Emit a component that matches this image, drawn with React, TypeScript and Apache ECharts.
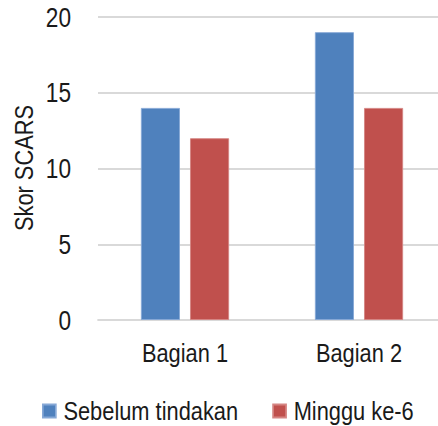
import React, { useEffect, useRef } from "react";
import * as echarts from "echarts";

const categories = ["Bagian 1", "Bagian 2"];
const seriesNames = ["Sebelum tindakan", "Minggu ke-6"];
const sebelumValues = [14, 19];
const mingguValues = [12, 14];
const yTicks = { min: 0, max: 20, interval: 5 };
const yTitle = "Skor SCARS";

// The chart is laid out in a wider box and squeezed horizontally so that
// Liberation Sans reads like a narrow face.
const SQUEEZE = 0.84;
const CHART_W = 540;
const CHART_H = 426;
const sx = (px: number) => px / SQUEEZE;

const FONT = "'Liberation Sans', Arial, sans-serif";
const TEXT_COLOR = "#1a1a1a";
const GRID_COLOR = "#d9d9d9";

export default function App() {
  const ref = useRef<HTMLDivElement>(null);

  useEffect(() => {
    if (!ref.current) return;
    const chart = echarts.init(ref.current, undefined, { renderer: "svg" });
    chart.setOption({
      animation: false,
      backgroundColor: "#ffffff",
      textStyle: { fontFamily: FONT, color: TEXT_COLOR },
      grid: { left: sx(98), top: 17, width: sx(348), height: 303, containLabel: false },
      legend: {
        data: seriesNames,
        left: sx(42),
        top: 398,
        padding: 0,
        icon: "rect",
        itemWidth: sx(13),
        itemHeight: 13,
        itemGap: sx(34),
        textStyle: { fontFamily: FONT, fontSize: 26, color: TEXT_COLOR, padding: [0, 0, 0, 4] },
      },
      // Rotated axis title: its length runs along y, so it is narrowed in its
      // own frame and the outer squeeze is undone across its height.
      graphic: [
        {
          type: "text",
          x: sx(24),
          y: 168,
          rotation: Math.PI / 2,
          scaleX: SQUEEZE,
          scaleY: 1 / SQUEEZE,
          style: {
            text: yTitle,
            fontFamily: FONT,
            fontSize: 26,
            fill: TEXT_COLOR,
            textAlign: "center",
            textVerticalAlign: "middle",
            align: "center",
            verticalAlign: "middle",
          },
        },
      ],
      xAxis: {
        type: "category",
        data: categories,
        axisTick: { show: false },
        axisLine: { show: true, lineStyle: { color: GRID_COLOR, width: 2 } },
        axisLabel: { fontFamily: FONT, fontSize: 26, color: TEXT_COLOR, margin: 20 },
      },
      yAxis: {
        type: "value",
        min: yTicks.min,
        max: yTicks.max,
        interval: yTicks.interval,
        axisLine: { show: false },
        axisTick: { show: false },
        axisLabel: { fontFamily: FONT, fontSize: 27, color: TEXT_COLOR, margin: sx(27) },
        splitLine: { lineStyle: { color: GRID_COLOR, width: 2 } },
      },
      series: [
        {
          name: seriesNames[0],
          type: "bar",
          data: sebelumValues,
          barWidth: sx(39),
          barGap: "26%",
          itemStyle: { color: "#4f81bd", borderColor: "#86a8d6", borderWidth: 1 },
        },
        {
          name: seriesNames[1],
          type: "bar",
          data: mingguValues,
          barWidth: sx(39),
          barGap: "26%",
          itemStyle: { color: "#c0504d", borderColor: "#d58583", borderWidth: 1 },
        },
      ],
    });
    return () => chart.dispose();
  }, []);

  return (
    <div
      style={{
        position: "absolute",
        left: 0,
        top: 0,
        width: 438,
        height: CHART_H,
        overflow: "hidden",
        background: "#ffffff",
      }}
    >
      <div
        ref={ref}
        style={{
          width: CHART_W,
          height: CHART_H,
          transform: `scaleX(${SQUEEZE})`,
          transformOrigin: "0 0",
        }}
      />
    </div>
  );
}
